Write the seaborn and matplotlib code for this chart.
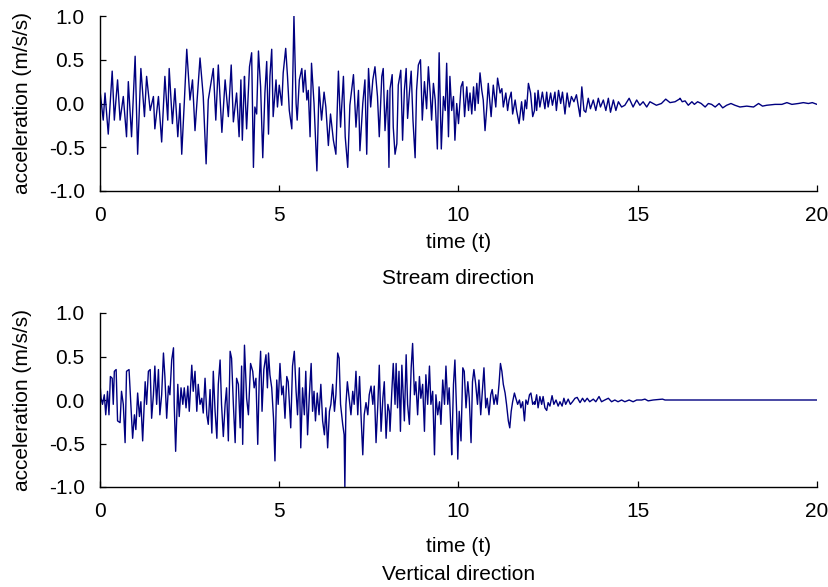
import numpy as np
import pandas as pd
import matplotlib
matplotlib.use("Agg")
import matplotlib.pyplot as plt
import seaborn as sns

# ---------------- data: stream direction ----------------
stream_t = [
    0.00, 0.09, 0.14, 0.23, 0.34, 0.40, 0.49, 0.56, 0.65, 0.74,
    0.79, 0.88, 0.98, 1.05, 1.14, 1.24, 1.30, 1.40, 1.49, 1.53,
    1.63, 1.72, 1.81, 1.89, 1.93, 2.02, 2.09, 2.17, 2.23, 2.28,
    2.35, 2.42, 2.51, 2.58, 2.65, 2.79, 2.88, 2.96, 3.02, 3.16,
    3.23, 3.30, 3.40, 3.49, 3.58, 3.66, 3.72, 3.81, 3.88, 3.93,
    3.97, 4.03,
    4.04, 4.09, 4.17, 4.23, 4.28, 4.32, 4.37, 4.42, 4.48, 4.54,
    4.60, 4.65, 4.70, 4.74, 4.79, 4.83, 4.91, 4.95, 5.00, 5.07,
    5.11, 5.18, 5.23, 5.28, 5.35, 5.41, 5.47, 5.50, 5.56, 5.63,
    5.67, 5.72, 5.77, 5.81, 5.86, 5.90, 5.97, 6.03, 6.05, 6.11,
    6.18, 6.25, 6.30, 6.37, 6.43, 6.51, 6.58, 6.65, 6.71, 6.79,
    6.84, 6.91, 6.97, 7.07, 7.14, 7.21, 7.25, 7.33, 7.39, 7.44,
    7.49, 7.55, 7.61, 7.67, 7.74, 7.79, 7.86, 7.90, 7.95, 8.02,
    8.06,
    8.09, 8.15, 8.18, 8.23, 8.28, 8.32, 8.39, 8.44, 8.49, 8.54,
    8.58, 8.63, 8.68, 8.73, 8.79, 8.83, 8.88, 8.94, 8.99, 9.05,
    9.11, 9.16, 9.21, 9.25, 9.30, 9.35, 9.41, 9.46, 9.52, 9.58,
    9.63, 9.67, 9.72, 9.76, 9.81, 9.86, 9.90, 9.95, 10.00, 10.07,
    10.12, 10.17, 10.23, 10.28, 10.32, 10.37, 10.42, 10.46, 10.51, 10.55,
    10.60, 10.65, 10.69, 10.74, 10.79, 10.83, 10.91, 10.97, 11.04, 11.09,
    11.16, 11.21, 11.25, 11.32, 11.37, 11.41, 11.47, 11.51, 11.58, 11.62,
    11.69, 11.76, 11.81, 11.86, 11.90, 11.95, 12.01, 12.07, 12.12,
    12.13, 12.18, 12.22, 12.27, 12.34, 12.41, 12.46, 12.50, 12.57, 12.62,
    12.69, 12.73, 12.79, 12.85, 12.90, 12.97, 13.03, 13.09, 13.15, 13.22,
    13.29, 13.39, 13.44, 13.50, 13.55, 13.62, 13.68, 13.76, 13.83, 13.90,
    13.96, 14.04, 14.11, 14.18, 14.24, 14.32, 14.39, 14.46, 14.55, 14.64,
    14.76, 14.87, 14.97, 15.06, 15.15, 15.25, 15.34, 15.43, 15.52, 15.66,
    15.78, 15.90, 16.04, 16.16,
    16.18, 16.24, 16.32, 16.41, 16.51, 16.58, 16.67, 16.77, 16.88, 16.97,
    17.06, 17.16, 17.27, 17.37, 17.48, 17.60, 17.71, 17.85, 18.04, 18.23,
    18.37, 18.48, 18.60, 18.83, 19.02, 19.16, 19.30, 19.48, 19.62, 19.76,
    19.87, 20.00,
]
stream_acc = [
    0.15, -0.19, 0.12, -0.35, 0.37, -0.19, 0.27, -0.19, 0.08, -0.38,
    0.25, -0.38, 0.54, -0.58, 0.40, -0.15, 0.31, -0.08, 0.08, -0.29,
    0.08, -0.44, 0.31, -0.19, 0.40, -0.23, 0.17, -0.38, 0.00, -0.58,
    0.00, 0.62, 0.04, 0.27, -0.31, 0.52, 0.08, -0.69, 0.04, 0.40,
    -0.19, 0.44, -0.33, 0.27, -0.15, 0.44, -0.21, 0.12, -0.38, 0.27,
    -0.42, 0.31,
    0.19, -0.29, 0.42, 0.58, -0.73, -0.04, -0.12, 0.60, 0.19, -0.62,
    0.12, 0.48, -0.35, 0.31, 0.62, -0.15, 0.27, -0.04, 0.21, -0.02,
    0.35, 0.63, 0.31, -0.08, -0.29, 1.00, 0.00, -0.19, 0.27, 0.40,
    0.13, 0.38, 0.04, 0.15, -0.38, 0.46, 0.00, -0.58, -0.77, 0.19,
    -0.19, 0.13, -0.04, -0.48, -0.12, -0.42, -0.58, 0.37, -0.27, 0.31,
    -0.38, -0.73, -0.02, 0.33, -0.27, 0.15, -0.54, 0.00, 0.27, -0.58,
    0.40, -0.04, 0.27, 0.42, 0.08, -0.38, 0.31, 0.40, -0.31, 0.15,
    -0.73,
    0.17, 0.33, -0.27, -0.58, -0.46, 0.21, 0.38, -0.42, 0.15, 0.40,
    -0.17, 0.12, 0.37, -0.19, -0.62, 0.15, 0.44, 0.50, -0.19, 0.25,
    -0.06, 0.42, 0.12, -0.19, 0.23, 0.04, -0.52, 0.58, -0.52, 0.08,
    -0.08, 0.46, -0.38, 0.31, -0.08, 0.08, -0.42, 0.00, -0.23, 0.19,
    0.25, -0.15, 0.19, -0.08, 0.12, -0.12, 0.19, -0.08, 0.23, 0.00,
    0.35, 0.15, 0.04, -0.31, -0.04, 0.23, -0.15, 0.21, -0.04, 0.29,
    0.12, 0.17, -0.04, 0.12, -0.08, 0.04, 0.13, -0.12, 0.04, -0.08,
    -0.23, 0.02, -0.19, 0.04, -0.06, 0.23, 0.12, -0.15, -0.08,
    0.12, -0.08, 0.15, -0.04, 0.13, -0.06, 0.13, -0.04, 0.12, -0.02,
    0.13, -0.08, 0.15, 0.00, 0.13, -0.12, 0.12, -0.04, 0.08, 0.02,
    0.10, -0.15, 0.19, -0.08, -0.10, 0.06, -0.06, 0.04, -0.08, 0.06,
    -0.04, 0.04, -0.08, 0.06, -0.10, 0.04, -0.08, 0.02, -0.04, -0.02,
    0.06, -0.04, 0.04, -0.02, 0.02, -0.04, 0.02, 0.00, -0.02, 0.00,
    0.05, 0.01, 0.02, 0.05,
    0.06, 0.02, 0.03, -0.02, 0.02, -0.01, 0.02, 0.00, -0.04, 0.00,
    -0.01, -0.04, 0.00, -0.05, -0.02, 0.00, -0.02, -0.04, -0.03, -0.04,
    0.00, -0.03, -0.02, -0.01, -0.01, 0.01, -0.01, 0.00, 0.01, 0.00,
    0.01, -0.01,
]

# ---------------- data: vertical direction ----------------
vert_t = [
    0.00, 0.03, 0.07, 0.12, 0.16, 0.21, 0.25, 0.29, 0.34, 0.37,
    0.40, 0.45, 0.49, 0.56, 0.60, 0.65, 0.70, 0.74, 0.81, 0.86,
    0.91, 0.96, 1.00, 1.05, 1.10, 1.14, 1.19, 1.26, 1.30, 1.35,
    1.40, 1.44, 1.49, 1.53, 1.58, 1.63, 1.67, 1.72, 1.77, 1.81,
    1.86, 1.91, 1.95, 2.00, 2.05, 2.07, 2.11, 2.17, 2.21, 2.26,
    2.31, 2.35, 2.40, 2.45, 2.49, 2.56, 2.60, 2.65, 2.70, 2.74,
    2.79, 2.84, 2.88, 2.93, 2.98, 3.02, 3.07, 3.12, 3.16, 3.21,
    3.26, 3.30, 3.35, 3.39, 3.44, 3.49, 3.53, 3.58, 3.63, 3.67,
    3.72, 3.77, 3.81, 3.86, 3.91, 3.95, 3.98, 4.03,
    4.09, 4.14, 4.20, 4.26, 4.30, 4.35, 4.40, 4.44, 4.48, 4.52,
    4.57, 4.63, 4.67, 4.70, 4.74, 4.79, 4.84, 4.88, 4.93, 4.97,
    5.02, 5.07, 5.11, 5.16, 5.21, 5.25, 5.32, 5.37, 5.42, 5.47,
    5.51, 5.56, 5.60, 5.65, 5.70, 5.74, 5.79, 5.84, 5.89, 5.93,
    5.97, 6.01, 6.06, 6.11, 6.16, 6.21, 6.26, 6.30, 6.35, 6.40,
    6.44, 6.49, 6.54, 6.58, 6.63, 6.67, 6.71, 6.77, 6.81, 6.83,
    6.86, 6.90, 6.95, 7.00, 7.05, 7.09, 7.14, 7.19, 7.24, 7.28,
    7.33, 7.37, 7.42, 7.47, 7.51, 7.56, 7.61, 7.65, 7.70, 7.75,
    7.79, 7.84, 7.89, 7.93, 7.98, 8.03, 8.07,
    8.09, 8.14, 8.18, 8.23, 8.26, 8.30, 8.34, 8.38, 8.42, 8.46,
    8.49, 8.54, 8.58, 8.63, 8.68, 8.72, 8.77, 8.81, 8.86, 8.91,
    8.95, 9.00, 9.05, 9.09, 9.14, 9.19, 9.23, 9.28, 9.33, 9.37,
    9.42, 9.47, 9.51, 9.56, 9.61, 9.65, 9.70, 9.74, 9.79, 9.81,
    9.86, 9.90, 9.95, 9.98, 10.02, 10.07, 10.12, 10.16, 10.21, 10.26,
    10.30, 10.35, 10.39, 10.43, 10.48, 10.53, 10.57, 10.62, 10.67, 10.71,
    10.76, 10.80, 10.85, 10.90, 10.94, 10.99, 11.04, 11.08, 11.13, 11.17,
    11.21, 11.25, 11.30, 11.34, 11.39, 11.43, 11.47, 11.51, 11.56, 11.60,
    11.65, 11.70, 11.74, 11.79, 11.84, 11.88, 11.93, 11.98, 12.02, 12.07,
    12.12,
    12.13, 12.18, 12.22, 12.27, 12.32, 12.36, 12.41, 12.46, 12.50, 12.55,
    12.61, 12.66, 12.72, 12.78, 12.83, 12.89, 12.94, 12.99, 13.06, 13.12,
    13.18, 13.25, 13.31, 13.39, 13.46, 13.52, 13.59, 13.66, 13.76, 13.83,
    13.92, 13.99, 14.08, 14.18, 14.27, 14.36, 14.45, 14.55, 14.64, 14.76,
    14.87, 14.97, 15.11, 15.20, 15.29, 15.43, 15.69, 15.76, 20.00,
]
vert_acc = [
    0.19, 0.02, -0.05, 0.06, -0.17, 0.10, -0.17, 0.27, 0.25, -0.05,
    0.33, 0.35, -0.24, -0.26, 0.10, -0.05, -0.49, 0.33, 0.35, -0.05,
    -0.44, -0.17, -0.34, 0.08, -0.19, -0.02, -0.47, 0.21, -0.05, 0.33,
    0.35, -0.21, 0.06, 0.39, -0.05, 0.35, -0.17, 0.06, 0.54, 0.27,
    -0.21, 0.16, 0.06, 0.46, 0.60, -0.05, -0.59, 0.18, -0.19, 0.14,
    -0.05, 0.14, -0.09, 0.16, -0.13, 0.40, 0.10, 0.33, -0.13, 0.18,
    -0.05, 0.02, -0.15, 0.25, -0.17, -0.28, 0.12, -0.38, 0.33, -0.13,
    -0.44, 0.18, 0.46, -0.05, -0.42, -0.05, 0.14, -0.47, 0.56, 0.48,
    -0.05, -0.49, 0.25, 0.18, -0.32, 0.39, -0.51, 0.63,
    0.02, -0.17, 0.42, 0.33, 0.14, 0.25, -0.51, 0.21, 0.56, -0.13,
    0.35, 0.52, 0.14, 0.54, 0.29, 0.14, -0.21, -0.70, 0.23, -0.05,
    0.42, 0.06, 0.16, -0.21, 0.27, 0.21, -0.32, 0.39, 0.56, 0.10,
    -0.17, 0.37, -0.55, 0.14, -0.17, 0.33, -0.40, 0.06, 0.42, -0.13,
    0.10, -0.24, 0.08, -0.17, 0.18, -0.24, -0.40, -0.09, -0.55, -0.13,
    -0.05, 0.18, -0.13, 0.06, 0.54, 0.48, -0.05, -0.28, -0.40, -1.00,
    -0.05, 0.21, 0.02, -0.17, 0.10, -0.05, 0.33, -0.17, 0.27, -0.17,
    -0.63, -0.17, -0.03, -0.17, 0.06, 0.16, -0.05, 0.16, -0.49, -0.05,
    0.40, -0.36, 0.02, 0.21, -0.44, -0.05, -0.13,
    -0.36, 0.10, 0.42, -0.05, 0.42, -0.09, 0.33, -0.36, 0.40, 0.02,
    -0.24, 0.52, -0.05, -0.28, 0.37, 0.65, 0.06, 0.21, -0.17, 0.27,
    0.02, 0.18, -0.36, 0.29, -0.05, 0.39, -0.05, 0.10, -0.63, 0.06,
    -0.17, -0.02, -0.28, 0.23, -0.05, 0.39, -0.05, 0.14, -0.36, -0.63,
    0.18, 0.46, -0.17, -0.68, -0.13, -0.47, 0.37, 0.33, -0.09, 0.21,
    0.02, -0.49, 0.21, 0.35, 0.18, -0.05, 0.23, -0.17, 0.14, 0.37,
    -0.09, 0.02, -0.17, 0.06, 0.12, -0.05, 0.06, -0.05, 0.18, 0.42,
    0.33, 0.18, 0.08, -0.05, -0.24, -0.32, -0.13, -0.02, 0.08, 0.02,
    -0.05, 0.00, -0.09, -0.02, -0.24, 0.00, -0.05, 0.06, 0.08, -0.05,
    -0.02,
    -0.05, 0.06, -0.09, 0.04, -0.05, 0.04, -0.09, -0.12, -0.03, -0.07,
    0.05, -0.05, 0.00, -0.07, -0.02, -0.07, 0.02, -0.05, 0.01, -0.05,
    -0.02, 0.02, 0.03, -0.03, 0.02, -0.02, 0.02, -0.02, 0.01, -0.02,
    0.04, -0.02, 0.00, 0.02, -0.02, 0.00, -0.02, 0.00, -0.02, 0.00,
    -0.02, 0.00, 0.00, 0.01, -0.01, 0.00, 0.01, 0.00, 0.00,
]

x_ticks = [0, 5, 10, 15, 20]
y_ticks = [-1.0, -0.5, 0.0, 0.5, 1.0]
titles = ["Stream direction", "Vertical direction"]
x_label = "time (t)"
y_label = "acceleration (m/s/s)"

# ---------------- style ----------------
sns.set_style("ticks")
plt.rcParams["font.family"] = ["Liberation Sans", "DejaVu Sans"]
plt.rcParams["text.color"] = "black"
plt.rcParams["axes.labelcolor"] = "black"
plt.rcParams["xtick.color"] = "black"
plt.rcParams["ytick.color"] = "black"
FS = 15
LINE_COLOR = "#000080"

W, H = 829, 587
fig = plt.figure(figsize=(W / 100, H / 100), dpi=100)

def frac_box(left, top, right, bottom):
    return [left / W, 1 - bottom / H, (right - left) / W, (bottom - top) / H]

ax_top = fig.add_axes(frac_box(100, 16, 817, 191))
ax_bot = fig.add_axes(frac_box(100, 313, 817, 487))

panels = [
    (ax_top, stream_t, stream_acc, 243, 279),
    (ax_bot, vert_t, vert_acc, 546, 574),
]

for (ax, tt, aa, xlab_px, title_px), title in zip(panels, titles):
    df = pd.DataFrame({"time": tt, "acc": aa})
    sns.lineplot(data=df, x="time", y="acc", ax=ax, estimator=None,
                 sort=False, color=LINE_COLOR, linewidth=1.0)
    ax.set_xlim(0, 20)
    ax.set_ylim(-1, 1)
    ax.set_xticks(x_ticks)
    ax.set_xticklabels([f"{v:g}" for v in x_ticks])
    ax.set_yticks(y_ticks)
    ax.set_yticklabels([f"{v:.1f}" for v in y_ticks])
    for s in ["top", "right"]:
        ax.spines[s].set_visible(False)
    for s in ["left", "bottom"]:
        ax.spines[s].set_color("black")
        ax.spines[s].set_linewidth(1.0)
    ax.tick_params(direction="in", length=4, width=0.9, colors="black",
                   labelsize=FS, pad=11)
    ax.set_xlabel("")
    ax.set_ylabel(y_label, fontsize=FS, color="black")
    ax.yaxis.set_label_coords(-0.095, 0.5)
    ax.patch.set_alpha(0)
    fig.text(0.5 * (100 + 817) / W, 1 - xlab_px / H, x_label,
             ha="center", va="center", fontsize=FS, color="black")
    fig.text(0.5 * (100 + 817) / W, 1 - title_px / H, title,
             ha="center", va="center", fontsize=FS, color="black")

fig.savefig("out.png", dpi=100)
